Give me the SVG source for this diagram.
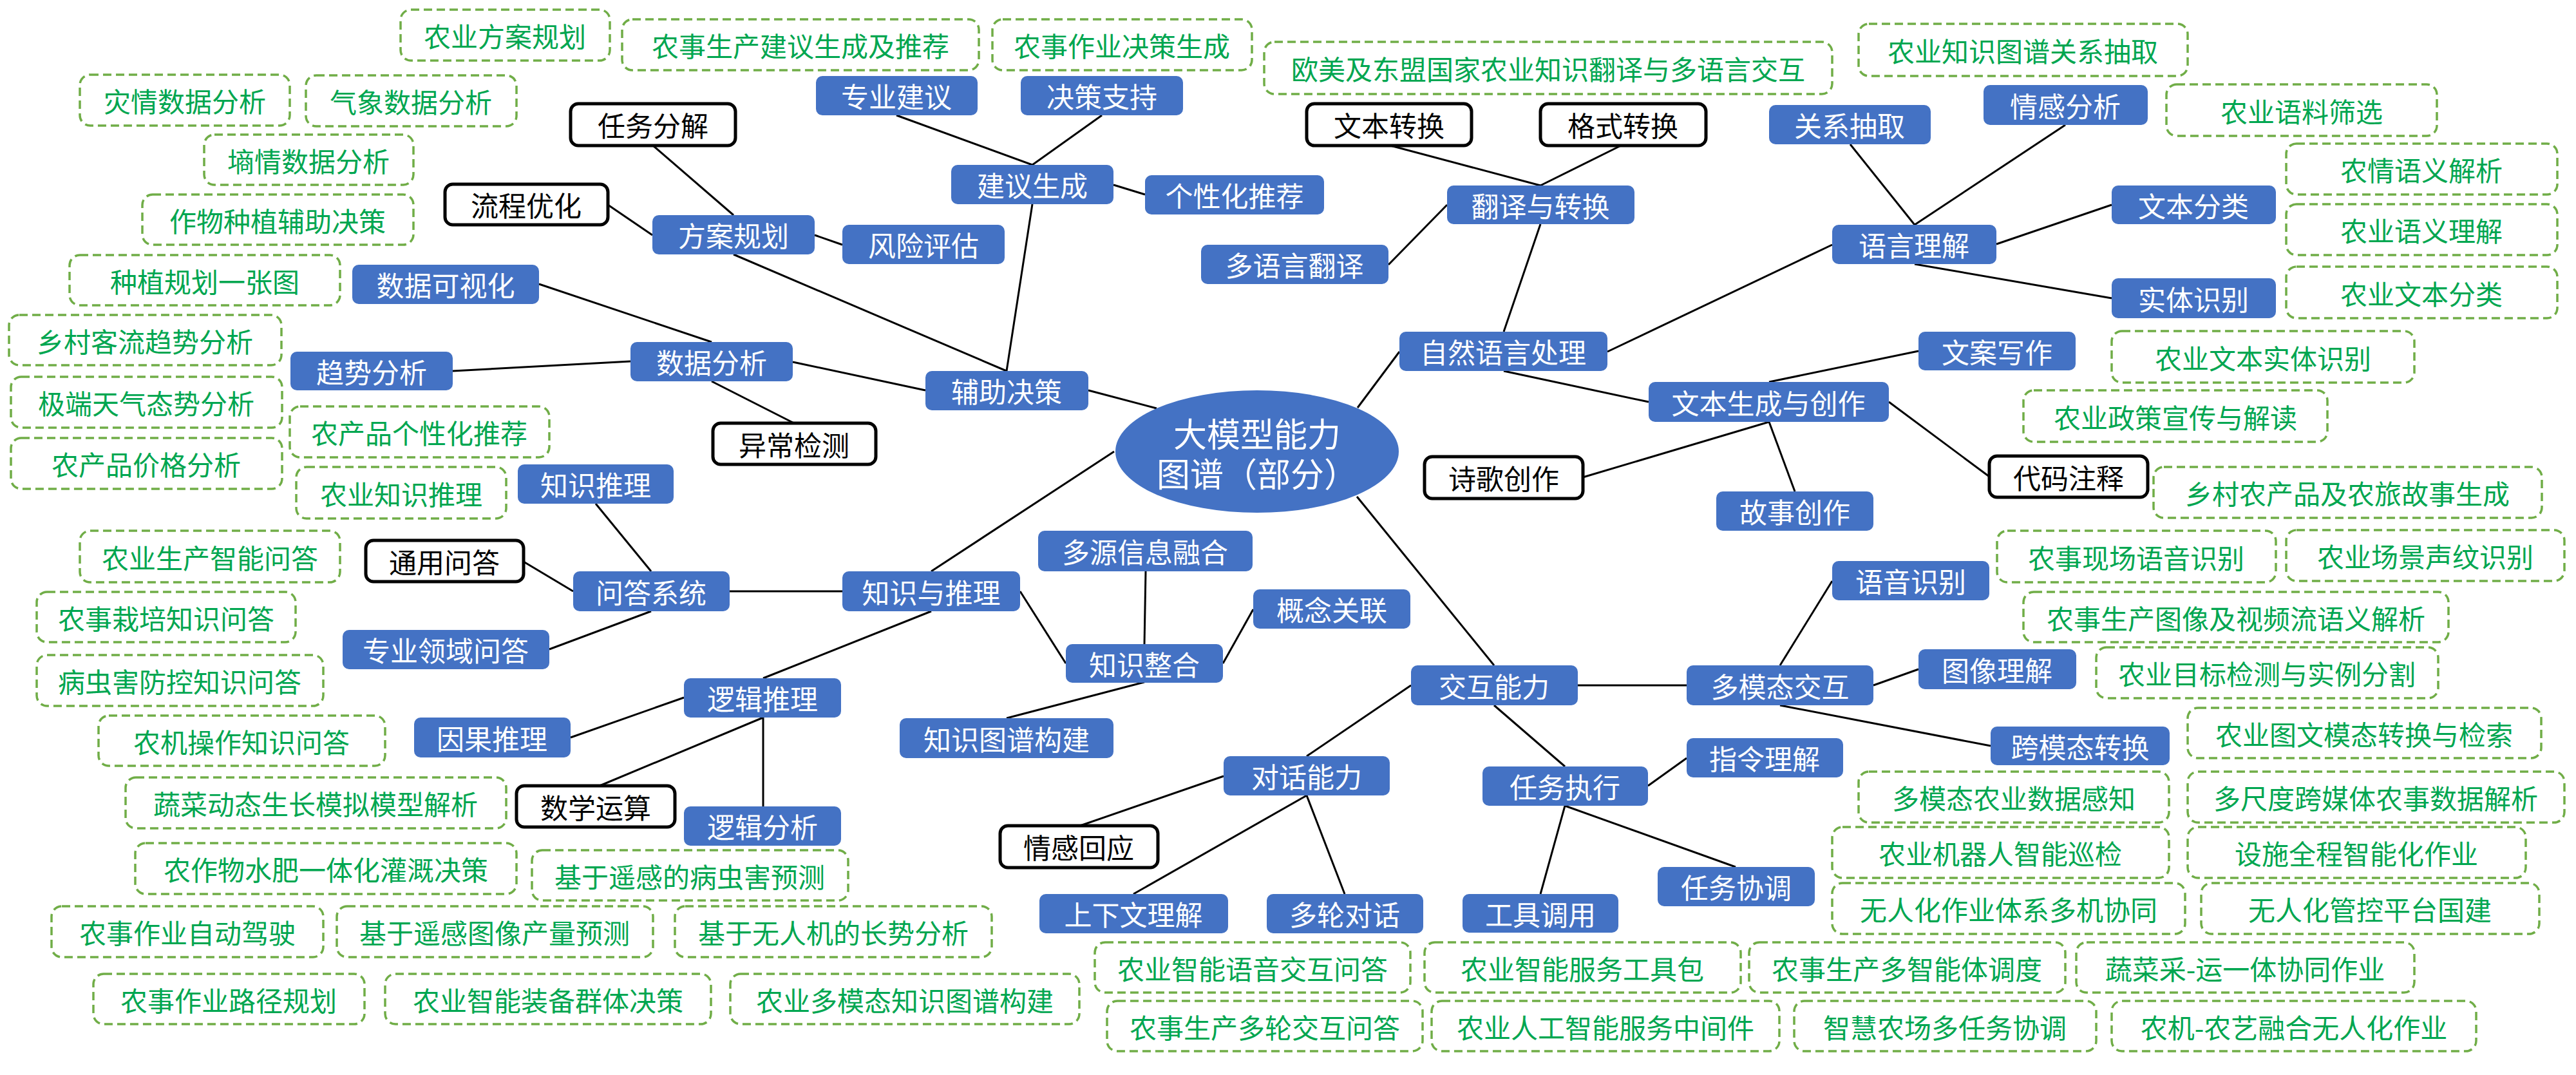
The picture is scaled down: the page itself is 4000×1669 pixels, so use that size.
<svg xmlns="http://www.w3.org/2000/svg" width="4000" height="1669" viewBox="0 0 4000 1669">
<style>
text{font-family:"Noto Sans CJK SC","Liberation Sans",sans-serif;text-anchor:middle;dominant-baseline:central}
.b rect{fill:#4472C4;stroke:none}
.b text{fill:#FFFFFF;font-size:43px}
.k rect{fill:#FFFFFF;stroke:#000000;stroke-width:5}
.k text{fill:#000000;font-size:43px}
.g rect{fill:#FFFFFF;stroke:#70AD47;stroke-width:3.5;stroke-dasharray:13 7}
.g text{fill:#00A650;font-size:42px}
.c line{stroke:#000000;stroke-width:3}
.root ellipse{fill:#4472C4}
.root text{fill:#FFFFFF;font-size:52px}
</style>
<rect width="4000" height="1669" fill="#FFFFFF"/>
<g id="connectors" class="c">
<line x1="944" y1="318" x2="1013" y2="365"/>
<line x1="1014" y1="226" x2="1139" y2="334"/>
<line x1="1265" y1="365" x2="1308" y2="380"/>
<line x1="1139" y1="395" x2="1563" y2="576"/>
<line x1="1392" y1="179" x2="1603" y2="256"/>
<line x1="1711" y1="179" x2="1603" y2="256"/>
<line x1="1729" y1="287" x2="1778" y2="302"/>
<line x1="1603" y1="317" x2="1563" y2="576"/>
<line x1="837" y1="441" x2="1105" y2="531"/>
<line x1="703" y1="576" x2="979" y2="561"/>
<line x1="1105" y1="592" x2="1233" y2="657"/>
<line x1="1231" y1="562" x2="1437" y2="606"/>
<line x1="1690" y1="606" x2="1796" y2="634"/>
<line x1="1730" y1="701" x2="1446" y2="887"/>
<line x1="925" y1="782" x2="1011" y2="887"/>
<line x1="813" y1="872" x2="890" y2="918"/>
<line x1="853" y1="1008" x2="1011" y2="949"/>
<line x1="1133" y1="918" x2="1308" y2="918"/>
<line x1="1584" y1="918" x2="1655" y2="1030"/>
<line x1="1779" y1="887" x2="1777" y2="1000"/>
<line x1="1899" y1="1030" x2="1946" y2="946"/>
<line x1="1777" y1="1059" x2="1563" y2="1115"/>
<line x1="1446" y1="949" x2="1185" y2="1053"/>
<line x1="1062" y1="1083" x2="886" y2="1145"/>
<line x1="1185" y1="1114" x2="931" y2="1220"/>
<line x1="1185" y1="1114" x2="1185" y2="1252"/>
<line x1="2108" y1="633" x2="2173" y2="546"/>
<line x1="2392" y1="348" x2="2335" y2="515"/>
<line x1="2159" y1="226" x2="2392" y2="288"/>
<line x1="2517" y1="226" x2="2392" y2="288"/>
<line x1="2247" y1="318" x2="2156" y2="411"/>
<line x1="2496" y1="546" x2="2845" y2="380"/>
<line x1="2873" y1="224" x2="2973" y2="349"/>
<line x1="3207" y1="194" x2="2973" y2="349"/>
<line x1="3100" y1="379" x2="3279" y2="318"/>
<line x1="2973" y1="410" x2="3279" y2="463"/>
<line x1="2335" y1="576" x2="2560" y2="624"/>
<line x1="2747" y1="593" x2="2979" y2="545"/>
<line x1="2933" y1="624" x2="3089" y2="740"/>
<line x1="2747" y1="655" x2="2458" y2="741"/>
<line x1="2747" y1="655" x2="2787" y2="763"/>
<line x1="2107" y1="771" x2="2320" y2="1033"/>
<line x1="2450" y1="1064" x2="2619" y2="1064"/>
<line x1="2764" y1="1033" x2="2845" y2="902"/>
<line x1="2909" y1="1064" x2="2979" y2="1039"/>
<line x1="2764" y1="1095" x2="3091" y2="1158"/>
<line x1="2191" y1="1064" x2="2029" y2="1174"/>
<line x1="2320" y1="1095" x2="2430" y2="1190"/>
<line x1="1900" y1="1205" x2="1677" y2="1282"/>
<line x1="2029" y1="1235" x2="1760" y2="1388"/>
<line x1="2029" y1="1235" x2="2088" y2="1388"/>
<line x1="2559" y1="1220" x2="2619" y2="1177"/>
<line x1="2430" y1="1251" x2="2392" y2="1388"/>
<line x1="2430" y1="1251" x2="2695" y2="1346"/>
</g>
<g id="root" class="root"><ellipse cx="1952" cy="701" rx="220" ry="95"/><text x="1952" y="671">大模型能力</text><text x="1952" y="733">图谱（部分）</text></g>
<g id="b1" class="b"><rect x="1267" y="118" width="251" height="61" rx="10"/><text x="1392" y="148">专业建议</text></g>
<g id="b2" class="b"><rect x="1585" y="118" width="252" height="61" rx="10"/><text x="1711" y="148">决策支持</text></g>
<g id="b3" class="b"><rect x="1477" y="256" width="252" height="61" rx="10"/><text x="1603" y="286">建议生成</text></g>
<g id="b4" class="b"><rect x="1778" y="272" width="278" height="61" rx="10"/><text x="1917" y="302">个性化推荐</text></g>
<g id="b5" class="b"><rect x="1013" y="334" width="252" height="61" rx="10"/><text x="1139" y="364">方案规划</text></g>
<g id="b6" class="b"><rect x="1308" y="349" width="252" height="61" rx="10"/><text x="1434" y="379">风险评估</text></g>
<g id="b7" class="b"><rect x="1865" y="380" width="291" height="61" rx="10"/><text x="2010" y="410">多语言翻译</text></g>
<g id="b8" class="b"><rect x="547" y="411" width="290" height="61" rx="10"/><text x="692" y="441">数据可视化</text></g>
<g id="b9" class="b"><rect x="979" y="531" width="252" height="61" rx="10"/><text x="1105" y="561">数据分析</text></g>
<g id="b10" class="b"><rect x="451" y="546" width="252" height="60" rx="10"/><text x="577" y="576">趋势分析</text></g>
<g id="b11" class="b"><rect x="1437" y="576" width="253" height="61" rx="10"/><text x="1563" y="606">辅助决策</text></g>
<g id="b12" class="b"><rect x="804" y="721" width="242" height="61" rx="10"/><text x="925" y="751">知识推理</text></g>
<g id="b13" class="b"><rect x="890" y="887" width="243" height="62" rx="10"/><text x="1011" y="918">问答系统</text></g>
<g id="b14" class="b"><rect x="1308" y="887" width="276" height="62" rx="10"/><text x="1446" y="918">知识与推理</text></g>
<g id="b15" class="b"><rect x="1612" y="824" width="333" height="63" rx="10"/><text x="1778" y="855">多源信息融合</text></g>
<g id="b16" class="b"><rect x="1655" y="1000" width="244" height="60" rx="10"/><text x="1777" y="1030">知识整合</text></g>
<g id="b17" class="b"><rect x="1946" y="915" width="244" height="61" rx="10"/><text x="2068" y="945">概念关联</text></g>
<g id="b18" class="b"><rect x="532" y="978" width="321" height="61" rx="10"/><text x="692" y="1008">专业领域问答</text></g>
<g id="b19" class="b"><rect x="1062" y="1053" width="244" height="61" rx="10"/><text x="1184" y="1083">逻辑推理</text></g>
<g id="b20" class="b"><rect x="643" y="1114" width="243" height="62" rx="10"/><text x="764" y="1145">因果推理</text></g>
<g id="b21" class="b"><rect x="1397" y="1115" width="332" height="62" rx="10"/><text x="1563" y="1146">知识图谱构建</text></g>
<g id="b22" class="b"><rect x="1062" y="1252" width="244" height="61" rx="10"/><text x="1184" y="1282">逻辑分析</text></g>
<g id="b23" class="b"><rect x="1900" y="1174" width="258" height="61" rx="10"/><text x="2029" y="1204">对话能力</text></g>
<g id="b24" class="b"><rect x="1614" y="1388" width="293" height="61" rx="10"/><text x="1760" y="1418">上下文理解</text></g>
<g id="b25" class="b"><rect x="1967" y="1388" width="243" height="61" rx="10"/><text x="2088" y="1418">多轮对话</text></g>
<g id="b26" class="b"><rect x="2302" y="1190" width="257" height="61" rx="10"/><text x="2430" y="1220">任务执行</text></g>
<g id="b27" class="b"><rect x="2619" y="1146" width="243" height="61" rx="10"/><text x="2740" y="1176">指令理解</text></g>
<g id="b28" class="b"><rect x="2271" y="1388" width="242" height="60" rx="10"/><text x="2392" y="1418">工具调用</text></g>
<g id="b29" class="b"><rect x="2574" y="1346" width="244" height="61" rx="10"/><text x="2696" y="1376">任务协调</text></g>
<g id="b30" class="b"><rect x="2191" y="1033" width="259" height="62" rx="10"/><text x="2320" y="1064">交互能力</text></g>
<g id="b31" class="b"><rect x="2619" y="1033" width="290" height="62" rx="10"/><text x="2764" y="1064">多模态交互</text></g>
<g id="b32" class="b"><rect x="2845" y="871" width="244" height="61" rx="10"/><text x="2967" y="901">语音识别</text></g>
<g id="b33" class="b"><rect x="2979" y="1008" width="245" height="62" rx="10"/><text x="3101" y="1039">图像理解</text></g>
<g id="b34" class="b"><rect x="3091" y="1128" width="278" height="60" rx="10"/><text x="3230" y="1158">跨模态转换</text></g>
<g id="b35" class="b"><rect x="2173" y="515" width="323" height="61" rx="10"/><text x="2334" y="545">自然语言处理</text></g>
<g id="b36" class="b"><rect x="2560" y="593" width="373" height="62" rx="10"/><text x="2746" y="624">文本生成与创作</text></g>
<g id="b37" class="b"><rect x="2979" y="515" width="244" height="60" rx="10"/><text x="3101" y="545">文案写作</text></g>
<g id="b38" class="b"><rect x="2665" y="763" width="244" height="61" rx="10"/><text x="2787" y="793">故事创作</text></g>
<g id="b39" class="b"><rect x="2247" y="288" width="291" height="60" rx="10"/><text x="2392" y="318">翻译与转换</text></g>
<g id="b40" class="b"><rect x="2747" y="163" width="251" height="61" rx="10"/><text x="2872" y="193">关系抽取</text></g>
<g id="b41" class="b"><rect x="2845" y="349" width="255" height="61" rx="10"/><text x="2972" y="379">语言理解</text></g>
<g id="b42" class="b"><rect x="3080" y="132" width="255" height="62" rx="10"/><text x="3207" y="163">情感分析</text></g>
<g id="b43" class="b"><rect x="3279" y="288" width="255" height="60" rx="10"/><text x="3406" y="318">文本分类</text></g>
<g id="b44" class="b"><rect x="3279" y="432" width="255" height="62" rx="10"/><text x="3406" y="463">实体识别</text></g>
<g id="k1" class="k"><rect x="886" y="161" width="256" height="65" rx="12"/><text x="1014" y="193">任务分解</text></g>
<g id="k2" class="k"><rect x="691" y="286" width="253" height="63" rx="12"/><text x="817" y="317">流程优化</text></g>
<g id="k3" class="k"><rect x="1107" y="657" width="253" height="64" rx="12"/><text x="1233" y="689">异常检测</text></g>
<g id="k4" class="k"><rect x="568" y="839" width="245" height="64" rx="12"/><text x="690" y="871">通用问答</text></g>
<g id="k5" class="k"><rect x="802" y="1220" width="246" height="64" rx="12"/><text x="925" y="1252">数学运算</text></g>
<g id="k6" class="k"><rect x="1553" y="1282" width="245" height="65" rx="12"/><text x="1675" y="1314">情感回应</text></g>
<g id="k7" class="k"><rect x="2029" y="161" width="256" height="65" rx="12"/><text x="2157" y="193">文本转换</text></g>
<g id="k8" class="k"><rect x="2392" y="161" width="257" height="65" rx="12"/><text x="2520" y="193">格式转换</text></g>
<g id="k9" class="k"><rect x="2212" y="709" width="246" height="65" rx="12"/><text x="2335" y="741">诗歌创作</text></g>
<g id="k10" class="k"><rect x="3089" y="708" width="246" height="64" rx="12"/><text x="3212" y="740">代码注释</text></g>
<g id="g1" class="g"><rect x="622" y="15" width="325" height="79" rx="16"/><text x="784" y="54">农业方案规划</text></g>
<g id="g2" class="g"><rect x="966" y="30" width="554" height="79" rx="16"/><text x="1243" y="69">农事生产建议生成及推荐</text></g>
<g id="g3" class="g"><rect x="1541" y="30" width="403" height="79" rx="16"/><text x="1742" y="69">农事作业决策生成</text></g>
<g id="g4" class="g"><rect x="1963" y="65" width="882" height="81" rx="16"/><text x="2404" y="105">欧美及东盟国家农业知识翻译与多语言交互</text></g>
<g id="g5" class="g"><rect x="2886" y="37" width="511" height="81" rx="16"/><text x="3141" y="77">农业知识图谱关系抽取</text></g>
<g id="g6" class="g"><rect x="3364" y="131" width="420" height="80" rx="16"/><text x="3574" y="171">农业语料筛选</text></g>
<g id="g7" class="g"><rect x="124" y="116" width="326" height="79" rx="16"/><text x="287" y="155">灾情数据分析</text></g>
<g id="g8" class="g"><rect x="475" y="117" width="327" height="79" rx="16"/><text x="638" y="156">气象数据分析</text></g>
<g id="g9" class="g"><rect x="317" y="209" width="325" height="78" rx="16"/><text x="479" y="248">墒情数据分析</text></g>
<g id="g10" class="g"><rect x="221" y="302" width="421" height="78" rx="16"/><text x="431" y="341">作物种植辅助决策</text></g>
<g id="g11" class="g"><rect x="108" y="396" width="420" height="78" rx="16"/><text x="318" y="435">种植规划一张图</text></g>
<g id="g12" class="g"><rect x="14" y="489" width="423" height="78" rx="16"/><text x="225" y="528">乡村客流趋势分析</text></g>
<g id="g13" class="g"><rect x="17" y="585" width="421" height="79" rx="16"/><text x="227" y="624">极端天气态势分析</text></g>
<g id="g14" class="g"><rect x="17" y="680" width="421" height="79" rx="16"/><text x="227" y="719">农产品价格分析</text></g>
<g id="g15" class="g"><rect x="450" y="631" width="403" height="79" rx="16"/><text x="651" y="670">农产品个性化推荐</text></g>
<g id="g16" class="g"><rect x="460" y="725" width="326" height="80" rx="16"/><text x="623" y="765">农业知识推理</text></g>
<g id="g17" class="g"><rect x="124" y="824" width="404" height="80" rx="16"/><text x="326" y="864">农业生产智能问答</text></g>
<g id="g18" class="g"><rect x="57" y="919" width="402" height="78" rx="16"/><text x="258" y="958">农事栽培知识问答</text></g>
<g id="g19" class="g"><rect x="57" y="1017" width="445" height="79" rx="16"/><text x="279" y="1056">病虫害防控知识问答</text></g>
<g id="g20" class="g"><rect x="153" y="1111" width="445" height="78" rx="16"/><text x="375" y="1150">农机操作知识问答</text></g>
<g id="g21" class="g"><rect x="195" y="1207" width="591" height="79" rx="16"/><text x="490" y="1246">蔬菜动态生长模拟模型解析</text></g>
<g id="g22" class="g"><rect x="210" y="1309" width="592" height="79" rx="16"/><text x="506" y="1348">农作物水肥一体化灌溉决策</text></g>
<g id="g23" class="g"><rect x="826" y="1320" width="491" height="78" rx="16"/><text x="1071" y="1359">基于遥感的病虫害预测</text></g>
<g id="g24" class="g"><rect x="80" y="1407" width="422" height="79" rx="16"/><text x="291" y="1446">农事作业自动驾驶</text></g>
<g id="g25" class="g"><rect x="523" y="1407" width="491" height="79" rx="16"/><text x="768" y="1446">基于遥感图像产量预测</text></g>
<g id="g26" class="g"><rect x="1048" y="1407" width="492" height="79" rx="16"/><text x="1294" y="1446">基于无人机的长势分析</text></g>
<g id="g27" class="g"><rect x="145" y="1512" width="421" height="78" rx="16"/><text x="355" y="1551">农事作业路径规划</text></g>
<g id="g28" class="g"><rect x="598" y="1512" width="506" height="78" rx="16"/><text x="851" y="1551">农业智能装备群体决策</text></g>
<g id="g29" class="g"><rect x="1134" y="1512" width="542" height="78" rx="16"/><text x="1405" y="1551">农业多模态知识图谱构建</text></g>
<g id="g30" class="g"><rect x="1700" y="1463" width="490" height="78" rx="16"/><text x="1945" y="1502">农业智能语音交互问答</text></g>
<g id="g31" class="g"><rect x="1719" y="1554" width="490" height="78" rx="16"/><text x="1964" y="1593">农事生产多轮交互问答</text></g>
<g id="g32" class="g"><rect x="2212" y="1463" width="491" height="78" rx="16"/><text x="2457" y="1502">农业智能服务工具包</text></g>
<g id="g33" class="g"><rect x="2223" y="1554" width="540" height="78" rx="16"/><text x="2493" y="1593">农业人工智能服务中间件</text></g>
<g id="g34" class="g"><rect x="2716" y="1463" width="491" height="78" rx="16"/><text x="2961" y="1502">农事生产多智能体调度</text></g>
<g id="g35" class="g"><rect x="2786" y="1554" width="469" height="78" rx="16"/><text x="3020" y="1593">智慧农场多任务协调</text></g>
<g id="g36" class="g"><rect x="2886" y="1198" width="482" height="79" rx="16"/><text x="3127" y="1237">多模态农业数据感知</text></g>
<g id="g37" class="g"><rect x="2845" y="1284" width="523" height="79" rx="16"/><text x="3106" y="1323">农业机器人智能巡检</text></g>
<g id="g38" class="g"><rect x="2845" y="1371" width="548" height="79" rx="16"/><text x="3119" y="1410">无人化作业体系多机协同</text></g>
<g id="g39" class="g"><rect x="3397" y="1099" width="549" height="78" rx="16"/><text x="3671" y="1138">农业图文模态转换与检索</text></g>
<g id="g40" class="g"><rect x="3397" y="1198" width="585" height="79" rx="16"/><text x="3689" y="1237">多尺度跨媒体农事数据解析</text></g>
<g id="g41" class="g"><rect x="3397" y="1284" width="525" height="79" rx="16"/><text x="3659" y="1323">设施全程智能化作业</text></g>
<g id="g42" class="g"><rect x="3418" y="1371" width="525" height="79" rx="16"/><text x="3680" y="1410">无人化管控平台国建</text></g>
<g id="g43" class="g"><rect x="3224" y="1463" width="525" height="78" rx="16"/><text x="3486" y="1502">蔬菜采-运一体协同作业</text></g>
<g id="g44" class="g"><rect x="3279" y="1554" width="566" height="78" rx="16"/><text x="3562" y="1593">农机-农艺融合无人化作业</text></g>
<g id="g45" class="g"><rect x="3550" y="223" width="421" height="79" rx="16"/><text x="3760" y="262">农情语义解析</text></g>
<g id="g46" class="g"><rect x="3550" y="317" width="421" height="79" rx="16"/><text x="3760" y="356">农业语义理解</text></g>
<g id="g47" class="g"><rect x="3550" y="414" width="421" height="80" rx="16"/><text x="3760" y="454">农业文本分类</text></g>
<g id="g48" class="g"><rect x="3279" y="514" width="470" height="80" rx="16"/><text x="3514" y="554">农业文本实体识别</text></g>
<g id="g49" class="g"><rect x="3142" y="606" width="472" height="80" rx="16"/><text x="3378" y="646">农业政策宣传与解读</text></g>
<g id="g50" class="g"><rect x="3344" y="725" width="603" height="79" rx="16"/><text x="3645" y="764">乡村农产品及农旅故事生成</text></g>
<g id="g51" class="g"><rect x="3101" y="824" width="433" height="80" rx="16"/><text x="3317" y="864">农事现场语音识别</text></g>
<g id="g52" class="g"><rect x="3550" y="823" width="432" height="79" rx="16"/><text x="3766" y="862">农业场景声纹识别</text></g>
<g id="g53" class="g"><rect x="3142" y="919" width="660" height="78" rx="16"/><text x="3472" y="958">农事生产图像及视频流语义解析</text></g>
<g id="g54" class="g"><rect x="3255" y="1005" width="531" height="79" rx="16"/><text x="3520" y="1044">农业目标检测与实例分割</text></g>
</svg>
